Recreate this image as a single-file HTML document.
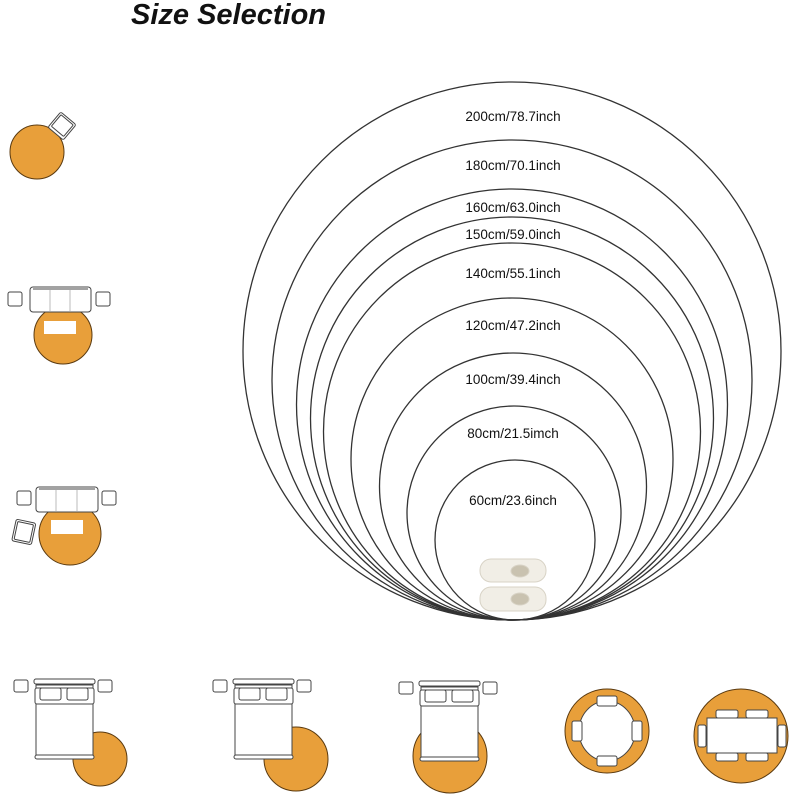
<!DOCTYPE html>
<html><head><meta charset="utf-8"><style>
html,body{margin:0;padding:0;background:#fff;width:800px;height:800px;overflow:hidden}
svg{display:block}
</style></head><body>
<svg width="800" height="800" viewBox="0 0 800 800" xmlns="http://www.w3.org/2000/svg">
<text x="131" y="24" font-family="Liberation Sans, sans-serif" font-weight="bold" font-style="italic" font-size="29" fill="#111">Size Selection</text>
<g fill="none" stroke="#333" stroke-width="1.3">
<circle cx="512" cy="351" r="269"/>
<circle cx="512" cy="380" r="240"/>
<circle cx="512" cy="404.5" r="215.5"/>
<circle cx="512" cy="418.5" r="201.5"/>
<circle cx="512" cy="431.5" r="188.5"/>
<circle cx="512" cy="459" r="161"/>
<circle cx="513" cy="486.5" r="133.5"/>
<circle cx="514" cy="513" r="107"/>
<circle cx="515" cy="540" r="80"/>
</g>
<g font-family="Liberation Sans, sans-serif" font-size="13.5" fill="#111" text-anchor="middle">
<text x="513" y="121">200cm/78.7inch</text>
<text x="513" y="170">180cm/70.1inch</text>
<text x="513" y="212">160cm/63.0inch</text>
<text x="513" y="239">150cm/59.0inch</text>
<text x="513" y="278">140cm/55.1inch</text>
<text x="513" y="330">120cm/47.2inch</text>
<text x="513" y="384">100cm/39.4inch</text>
<text x="513" y="438">80cm/21.5imch</text>
<text x="513" y="505">60cm/23.6inch</text>
</g>
<!-- shoes -->
<g fill="#f1eee6" stroke="#d8d3c6" stroke-width="1">
<rect x="480" y="559" width="66" height="23" rx="11"/>
<rect x="480" y="587" width="66" height="24" rx="11"/>
<ellipse cx="520" cy="571" rx="9" ry="6" fill="#c9c2b0"/>
<ellipse cx="520" cy="599" rx="9" ry="6" fill="#c9c2b0"/>
</g>
<g stroke="#5a3a10" stroke-width="1" fill="#E89F3A">
<!-- icon 1 -->
<circle cx="37" cy="152" r="27"/>
<!-- icon 2 -->
<circle cx="63" cy="335" r="29"/>
<!-- icon 3 -->
<circle cx="70" cy="534" r="31"/>
<!-- bottom -->
<circle cx="100" cy="759" r="27"/>
<circle cx="296" cy="759" r="32"/>
<circle cx="450" cy="756" r="37"/>
<circle cx="607" cy="731" r="42"/>
<circle cx="741" cy="736" r="47"/>
</g>
<g stroke="#444" stroke-width="1" fill="#fff">
<!-- icon1 chair -->
<g transform="translate(62,126) rotate(40)"><rect x="-10" y="-10" width="20" height="20" rx="2"/><rect x="-8" y="-8" width="16" height="15" rx="1"/></g>
<!-- icon2 -->
<rect x="8" y="292" width="14" height="14" rx="2"/><rect x="96" y="292" width="14" height="14" rx="2"/>
<rect x="30" y="287" width="61" height="25" rx="3"/><line x1="33" y1="289" x2="88" y2="289"/>
<line x1="50" y1="290" x2="50" y2="311" stroke="#bbb"/><line x1="70" y1="290" x2="70" y2="311" stroke="#bbb"/>
<rect x="44" y="321" width="32" height="13" stroke="none"/>
<!-- icon3 -->
<rect x="17" y="491" width="14" height="14" rx="2"/><rect x="102" y="491" width="14" height="14" rx="2"/>
<rect x="36" y="487" width="62" height="25" rx="3"/><line x1="39" y1="489" x2="95" y2="489"/>
<line x1="56" y1="490" x2="56" y2="511" stroke="#bbb"/><line x1="77" y1="490" x2="77" y2="511" stroke="#bbb"/>
<rect x="51" y="520" width="32" height="14" stroke="none"/>
<g transform="translate(24,531) rotate(12)"><rect x="-10" y="-10" width="20" height="22" rx="2"/><rect x="-8" y="-8" width="16" height="18" rx="1"/></g>
<!-- beds -->
<g id="b1">
<rect x="14" y="680" width="14" height="12" rx="2"/><rect x="98" y="680" width="14" height="12" rx="2"/>
<rect x="34" y="679" width="61" height="5" rx="2"/>
<rect x="36" y="685" width="57" height="73"/>
<rect x="35" y="688" width="59" height="16" rx="2"/>
<rect x="40" y="688" width="21" height="12" rx="2"/><rect x="67" y="688" width="21" height="12" rx="2"/>
<rect x="35" y="755" width="59" height="4" rx="2"/>
</g>
<g transform="translate(199,0)">
<rect x="14" y="680" width="14" height="12" rx="2"/><rect x="98" y="680" width="14" height="12" rx="2"/>
<rect x="34" y="679" width="61" height="5" rx="2"/>
<rect x="36" y="685" width="57" height="73"/>
<rect x="35" y="688" width="59" height="16" rx="2"/>
<rect x="40" y="688" width="21" height="12" rx="2"/><rect x="67" y="688" width="21" height="12" rx="2"/>
<rect x="35" y="755" width="59" height="4" rx="2"/>
</g>
<g transform="translate(385,2)">
<rect x="14" y="680" width="14" height="12" rx="2"/><rect x="98" y="680" width="14" height="12" rx="2"/>
<rect x="34" y="679" width="61" height="5" rx="2"/>
<rect x="36" y="685" width="57" height="73"/>
<rect x="35" y="688" width="59" height="16" rx="2"/>
<rect x="40" y="688" width="21" height="12" rx="2"/><rect x="67" y="688" width="21" height="12" rx="2"/>
<rect x="35" y="755" width="59" height="4" rx="2"/>
</g>
<!-- round dining -->
<ellipse cx="607" cy="731" rx="28" ry="30"/>
<rect x="597" y="696" width="20" height="10" rx="2"/><rect x="597" y="756" width="20" height="10" rx="2"/>
<rect x="572" y="721" width="10" height="20" rx="2"/><rect x="632" y="721" width="10" height="20" rx="2"/>
<!-- rect dining -->
<rect x="707" y="718" width="70" height="35"/>
<rect x="716" y="710" width="22" height="8" rx="2"/><rect x="746" y="710" width="22" height="8" rx="2"/>
<rect x="716" y="753" width="22" height="8" rx="2"/><rect x="746" y="753" width="22" height="8" rx="2"/>
<rect x="698" y="725" width="8" height="22" rx="2"/><rect x="778" y="725" width="8" height="22" rx="2"/>
</g>
</svg>
</body></html>
